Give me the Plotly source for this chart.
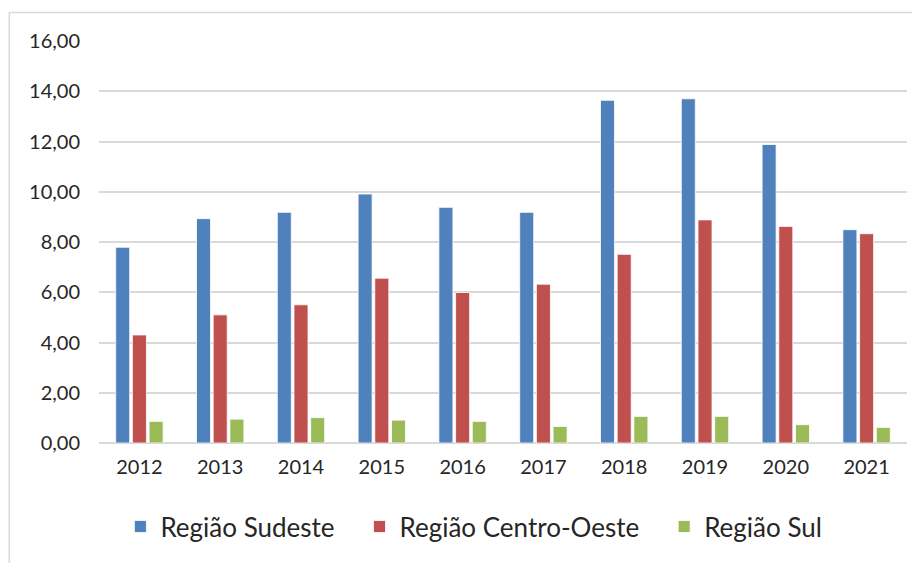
import plotly.graph_objects as go

anos = ['2012', '2013', '2014', '2015', '2016', '2017', '2018', '2019', '2020', '2021']
sudeste = [7.79, 8.93, 9.18, 9.91, 9.38, 9.18, 13.64, 13.70, 11.88, 8.49]
centro_oeste = [4.30, 5.10, 5.50, 6.56, 5.99, 6.32, 7.51, 8.88, 8.62, 8.33]
sul = [0.86, 0.95, 1.01, 0.91, 0.86, 0.66, 1.06, 1.06, 0.73, 0.62]

nbsp = '\u00a0' * 3
series = [
    ('Região Sudeste' + nbsp, sudeste, '#4F81BD'),
    ('Região Centro-Oeste' + nbsp, centro_oeste, '#C0504D'),
    ('Região Sul', sul, '#9BBB59'),
]

fig = go.Figure()
for nome, valores, cor in series:
    fig.add_trace(go.Bar(x=anos, y=valores, name=nome,
                         marker=dict(color=cor, line=dict(color='white', width=0.8))))

fonte = dict(family='Lato', size=20, color='#262626')

# a página tem margem de 8px no body, por isso 912x555
fig.update_layout(
    width=912, height=555,
    margin=dict(l=91, r=13, t=33, b=120),
    paper_bgcolor='white', plot_bgcolor='white',
    font=fonte,
    separators=',.',
    barmode='group', bargap=0.38, bargroupgap=0.16,
    showlegend=True,
    legend=dict(orientation='h', x=0.464, xanchor='center', y=-0.208, yanchor='middle',
                font=dict(family='Lato', size=26, color='#262626'),
                itemwidth=30, tracegroupgap=0),
    shapes=[dict(type='rect', xref='paper', yref='paper',
                 x0=-0.111, x1=1.05, y0=-0.4, y1=1.071,
                 line=dict(color='#D9D9D9', width=1.5), layer='below')],
)
fig.update_yaxes(range=[0, 16], dtick=2, tickformat='.2f',
                 showgrid=True, gridcolor='#D9D9D9', gridwidth=1.5,
                 zeroline=True, zerolinecolor='#D9D9D9', zerolinewidth=1.5,
                 showline=False, ticks='', ticklabelstandoff=18)
fig.update_xaxes(showgrid=False, showline=False, ticks='', ticklabelstandoff=10)

fig.write_html('out.html')
